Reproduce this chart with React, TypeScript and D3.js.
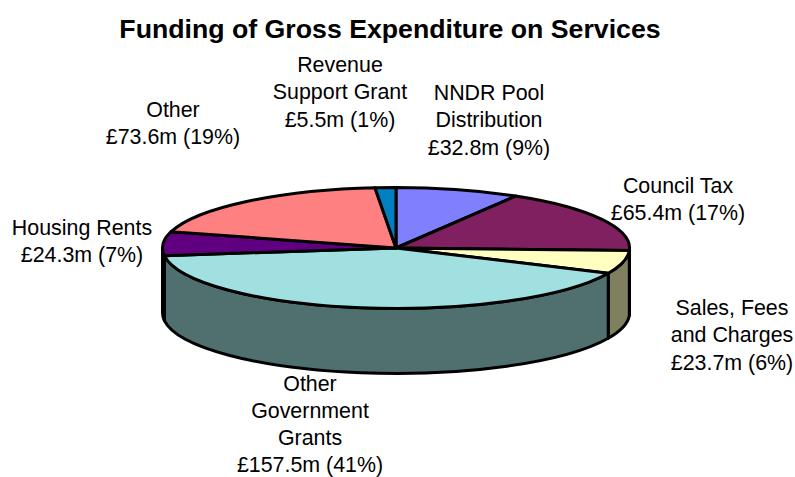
import React from "react";
import * as d3 from "d3";

const categories = ["NNDR Pool Distribution", "Council Tax", "Sales, Fees and Charges", "Other Government Grants", "Housing Rents", "Other", "Revenue Support Grant"];
const amounts = [32.8, 65.4, 23.7, 157.5, 24.3, 73.6, 5.5];
const topColors = ["#8080FF", "#802060", "#FFFFC0", "#A0E0E0", "#600080", "#FF8080", "#0080C0"];
const wallColors = ["#404080", "#401030", "#808060", "#507070", "#300040", "#804040", "#004060"];
const labelLines = [
  ["NNDR Pool", "Distribution", "£32.8m (9%)"],
  ["Council Tax", "£65.4m (17%)"],
  ["Sales, Fees", "and Charges", "£23.7m (6%)"],
  ["Other", "Government", "Grants", "£157.5m (41%)"],
  ["Housing Rents", "£24.3m (7%)"],
  ["Other", "£73.6m (19%)"],
  ["Revenue", "Support Grant", "£5.5m (1%)"],
];
const labelAnchors: [number, number][] = [
  [489, 100], [678, 193], [732, 315], [310, 390.5], [82, 235], [173, 117], [340, 72],
];

const WIDTH = 795;
const HEIGHT = 477;
const cx = 396;
const cy = 248;
const rx = 233.5;
const ry = 60.5;
const depth = 65;
const lineHeight = 27.3;

const pie = d3.pie<number>().sort(null).value((d) => d);
const slices = pie(amounts);

// Pie angles run clockwise from twelve o'clock and are squashed onto the ellipse.
const px = (a: number) => cx + rx * Math.sin(a);
const py = (a: number) => cy - ry * Math.cos(a);

function topPath(start: number, end: number) {
  const large = end - start > Math.PI ? 1 : 0;
  return `M${cx},${cy}L${px(start)},${py(start)}A${rx},${ry} 0 ${large} 1 ${px(end)},${py(end)}Z`;
}

// Outer wall of the part of a slice that faces the viewer.
function wallPath(start: number, end: number) {
  const s = Math.max(start, Math.PI / 2);
  const e = Math.min(end, (3 * Math.PI) / 2);
  if (e <= s) return null;
  return (
    `M${px(s)},${py(s)}A${rx},${ry} 0 0 1 ${px(e)},${py(e)}` +
    `L${px(e)},${py(e) + depth}A${rx},${ry} 0 0 0 ${px(s)},${py(s) + depth}Z`
  );
}

export default function App() {
  return (
    <svg
      width={WIDTH}
      height={HEIGHT}
      viewBox={`0 0 ${WIDTH} ${HEIGHT}`}
      style={{ position: "absolute", left: 0, top: 0, background: "#fff" }}
      fontFamily="'Liberation Sans', Arial, sans-serif"
    >
      <text x={390} y={38} textAnchor="middle" fontSize={26.7} fontWeight="bold" fill="#000">
        Funding of Gross Expenditure on Services
      </text>
      <g stroke="#000" strokeWidth={3} strokeLinejoin="round">
        {slices.map((s, i) => {
          const d = wallPath(s.startAngle, s.endAngle);
          return d ? <path key={i} d={d} fill={wallColors[i]} /> : null;
        })}
        {slices.map((s, i) => (
          <path key={categories[i]} d={topPath(s.startAngle, s.endAngle)} fill={topColors[i]} />
        ))}
      </g>
      <g fontSize={21.4} fill="#000" textAnchor="middle">
        {labelLines.map((lines, i) => (
          <text key={i} x={labelAnchors[i][0]} y={labelAnchors[i][1]}>
            {lines.map((line, j) => (
              <tspan key={j} x={labelAnchors[i][0]} y={labelAnchors[i][1] + j * lineHeight}>
                {line}
              </tspan>
            ))}
          </text>
        ))}
      </g>
    </svg>
  );
}
